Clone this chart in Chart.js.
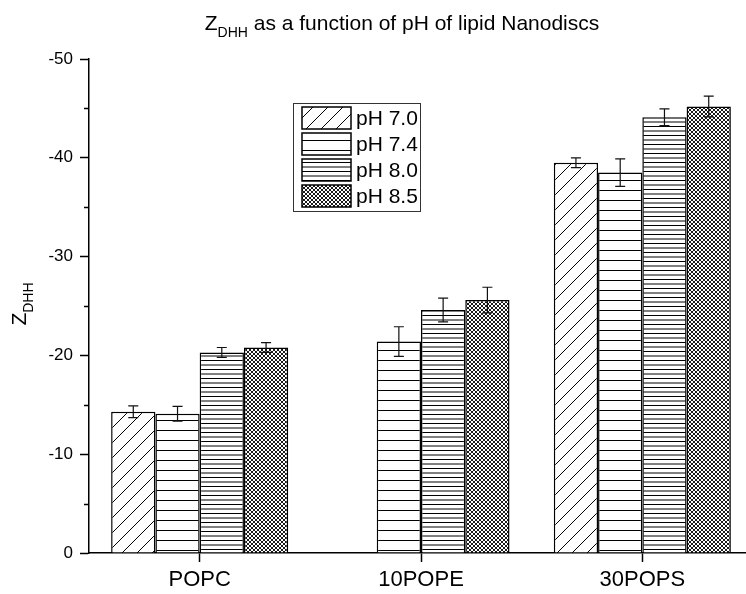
<!DOCTYPE html>
<html lang="en">
<head>
    <meta charset="UTF-8">
    <title>Z_DHH as a function of pH of lipid Nanodiscs</title>
    <script src="https://cdn.jsdelivr.net/npm/chart.js"></script>
    <style>
        html, body {
            margin: 0;
            padding: 0;
            background: #fff;
            overflow: hidden;
        }
        #wrap {
            width: 746px;
            height: 594px;
            overflow: hidden;
        }
    </style>
</head>
<body>
    <div id="wrap">
        <canvas id="zChart" width="753" height="594"></canvas>
    </div>

    <script>
        // data (values are negative, axis runs 0 -> -50 upwards)
        const categories = ['POPC', '10POPE', '30POPS'];
        const seriesNames = ['pH 7.0', 'pH 7.4', 'pH 8.0', 'pH 8.5'];
        const ph70 = [-14.3, null, -39.5];
        const ph74 = [-14.1, -21.4, -38.5];
        const ph80 = [-20.3, -24.6, -44.1];
        const ph85 = [-20.8, -25.6, -45.2];
        const err70 = [0.6, null, 0.5];
        const err74 = [0.75, 1.5, 1.4];
        const err80 = [0.5, 1.2, 0.85];
        const err85 = [0.5, 1.3, 1.05];
        const yTicks = [0, -10, -20, -30, -40, -50];

        const FONT = '"Liberation Sans", Arial, sans-serif';

        // hatch fills like the original plot
        function makePattern(kind) {
            const c = document.createElement('canvas');
            const g = c.getContext('2d');
            g.strokeStyle = '#000';
            g.lineWidth = 1;
            if (kind === 'diag') {
                c.width = c.height = 15;
                g.fillStyle = '#fff';
                g.fillRect(0, 0, 15, 15);
                g.beginPath();
                g.moveTo(-2, 17); g.lineTo(17, -2);
                g.stroke();
            } else if (kind === 'hwide') {
                c.width = 10; c.height = 10;
                g.fillStyle = '#fff';
                g.fillRect(0, 0, 10, 10);
                g.beginPath();
                g.moveTo(0, 0.5); g.lineTo(10, 0.5);
                g.stroke();
            } else if (kind === 'hdense') {
                c.width = 9; c.height = 9;
                g.fillStyle = '#fff';
                g.fillRect(0, 0, 9, 9);
                g.beginPath();
                g.moveTo(0, 0.5); g.lineTo(9, 0.5);
                g.moveTo(0, 5); g.lineTo(9, 5);
                g.stroke();
            } else {
                c.width = c.height = 4;
                g.fillStyle = '#fff';
                g.fillRect(0, 0, 4, 4);
                g.lineWidth = 0.9;
                g.beginPath();
                g.moveTo(-1, -1); g.lineTo(5, 5);
                g.moveTo(5, -1); g.lineTo(-1, 5);
                g.stroke();
            }
            return g.createPattern(c, 'repeat');
        }

        const fills = [makePattern('diag'), makePattern('hwide'), makePattern('hdense'), makePattern('cross')];
        const values = [ph70, ph74, ph80, ph85];
        const errors = [err70, err74, err80, err85];

        // title and y label need subscripts, draw them by hand
        function drawSubText(ctx, x, y, main, sub, rest, size) {
            ctx.font = size + 'px ' + FONT;
            ctx.fillText(main, x, y);
            let w = ctx.measureText(main).width;
            ctx.font = Math.round(size * 0.65) + 'px ' + FONT;
            ctx.fillText(sub, x + w, y + size * 0.35);
            w += ctx.measureText(sub).width;
            if (rest) {
                ctx.font = size + 'px ' + FONT;
                ctx.fillText(rest, x + w, y);
            }
        }

        function subTextWidth(ctx, main, sub, rest, size) {
            ctx.font = size + 'px ' + FONT;
            let w = ctx.measureText(main).width + (rest ? ctx.measureText(rest).width : 0);
            ctx.font = Math.round(size * 0.65) + 'px ' + FONT;
            return w + ctx.measureText(sub).width;
        }

        const extras = {
            id: 'extras',
            afterDatasetsDraw(chart) {
                const ctx = chart.ctx;
                const y = chart.scales.y;
                ctx.save();
                ctx.strokeStyle = '#111';
                ctx.lineWidth = 1.2;
                chart.data.datasets.forEach((ds, i) => {
                    const meta = chart.getDatasetMeta(i);
                    meta.data.forEach((bar, j) => {
                        const v = ds.data[j];
                        const e = errors[i][j];
                        if (v === null || e === null) return;
                        const top = y.getPixelForValue(v - e);
                        const bot = y.getPixelForValue(v + e);
                        ctx.beginPath();
                        ctx.moveTo(bar.x, top); ctx.lineTo(bar.x, bot);
                        ctx.moveTo(bar.x - 5, top); ctx.lineTo(bar.x + 5, top);
                        ctx.moveTo(bar.x - 5, bot); ctx.lineTo(bar.x + 5, bot);
                        ctx.stroke();
                    });
                });
                ctx.restore();
            },
            afterDraw(chart) {
                const ctx = chart.ctx;
                const area = chart.chartArea;
                const y = chart.scales.y;
                ctx.save();
                ctx.fillStyle = '#000';
                ctx.strokeStyle = '#000';

                // minor ticks at the 5s
                ctx.lineWidth = 1.5;
                for (let v = -5; v > -50; v -= 10) {
                    const py = Math.round(y.getPixelForValue(v)) + 0.5;
                    ctx.beginPath();
                    ctx.moveTo(area.left - 5, py);
                    ctx.lineTo(area.left, py);
                    ctx.stroke();
                }

                // title
                ctx.textBaseline = 'alphabetic';
                const title = ' as a function of pH of lipid Nanodiscs';
                const tw = subTextWidth(ctx, 'Z', 'DHH', title, 21);
                drawSubText(ctx, 402 - tw / 2, 30, 'Z', 'DHH', title, 21);

                // y axis label
                ctx.save();
                ctx.translate(26, 304);
                ctx.rotate(-Math.PI / 2);
                const lw = subTextWidth(ctx, 'Z', 'DHH', '', 21);
                drawSubText(ctx, -lw / 2, 0, 'Z', 'DHH', '', 21);
                ctx.restore();

                // legend box inside the plot
                const bx = 293, by = 103, bw = 127, bh = 108;
                ctx.lineWidth = 1;
                ctx.strokeStyle = '#333';
                ctx.fillStyle = '#fff';
                ctx.fillRect(bx, by, bw, bh);
                ctx.strokeRect(bx + 0.5, by + 0.5, bw, bh);
                ctx.font = '21px ' + FONT;
                ctx.textBaseline = 'middle';
                seriesNames.forEach((name, i) => {
                    const top = by + 4 + i * 26;
                    ctx.fillStyle = fills[i];
                    ctx.fillRect(302, top, 49, 22);
                    ctx.lineWidth = 1.5;
                    ctx.strokeStyle = '#000';
                    ctx.strokeRect(302, top, 49, 22);
                    ctx.fillStyle = '#000';
                    ctx.fillText(name, 356, top + 12);
                });
                ctx.restore();
            }
        };

        const ctx = document.getElementById('zChart').getContext('2d');
        new Chart(ctx, {
            type: 'bar',
            data: {
                labels: categories,
                datasets: seriesNames.map((name, i) => ({
                    label: name,
                    data: values[i],
                    backgroundColor: fills[i],
                    borderColor: '#000',
                    borderWidth: 1.5,
                    barPercentage: 1.0,
                    categoryPercentage: 0.8
                }))
            },
            options: {
                responsive: false,
                animation: false,
                layout: { padding: { top: 59, left: 0, right: 0, bottom: 0 } },
                plugins: {
                    legend: { display: false },
                    tooltip: { enabled: false }
                },
                scales: {
                    x: {
                        afterFit(scale) { scale.height = 41; },
                        grid: {
                            drawOnChartArea: false,
                            offset: false,
                            tickLength: 9,
                            tickWidth: 1.5,
                            tickColor: '#000'
                        },
                        border: { color: '#000', width: 1.5 },
                        ticks: {
                            color: '#000',
                            padding: 5,
                            font: { family: FONT, size: 22 }
                        }
                    },
                    y: {
                        min: -50,
                        max: 0,
                        reverse: true,
                        afterFit(scale) { scale.width = 89; },
                        afterBuildTicks(scale) {
                            scale.ticks = yTicks.map(v => ({ value: v }));
                        },
                        grid: {
                            drawOnChartArea: false,
                            tickLength: 9,
                            tickWidth: 1.5,
                            tickColor: '#000'
                        },
                        border: { color: '#000', width: 1.5 },
                        ticks: {
                            color: '#000',
                            padding: 7,
                            font: { family: FONT, size: 17 }
                        }
                    }
                }
            },
            plugins: [extras]
        });
    </script>
</body>
</html>
